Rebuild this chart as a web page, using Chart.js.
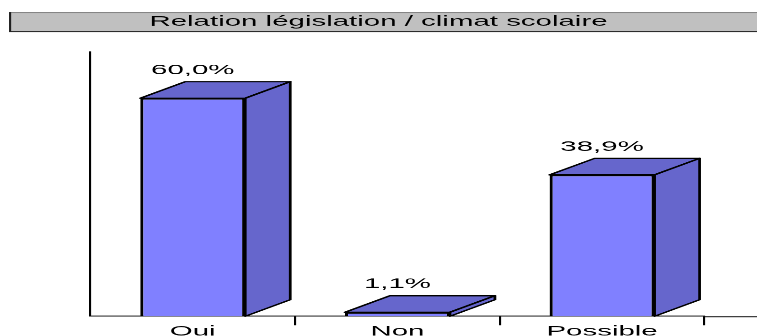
<!DOCTYPE html>
<html>
<head>
<meta charset="utf-8">
<script src="https://cdn.jsdelivr.net/npm/chart.js@4.4.1/dist/chart.umd.min.js"></script>
<style>
  html, body { margin: 0; padding: 0; background: #fff; overflow: hidden; }
  /* the original picture is a horizontally stretched chart */
  #chart { display: block; width: 757px !important; height: 336px !important; }
</style>
</head>
<body>
<canvas id="chart" width="360" height="336"></canvas>
<script>
// Chart data
const chartTitle = 'Relation législation / climat scolaire';
const categories = ['Oui', 'Non', 'Possible'];
const percentages = [60.0, 1.1, 38.9];

const FONT = '"Liberation Sans", Arial, sans-serif';
const FRONT = '#8080FF';
const SIDE = '#6666CC';
const DEPTH_X = 21.4;   // 3D depth, logical px
const DEPTH_Y = 16.5;

function fmtPct(v) {
    return v.toFixed(1).replace('.', ',') + '%';
}

// gray box behind the title
const titleBox = {
    id: 'titleBox',
    beforeDraw(chart) {
        const ctx = chart.ctx;
        ctx.save();
        ctx.fillStyle = '#C0C0C0';
        ctx.fillRect(4.3, 12, chart.width, 20);
        ctx.strokeStyle = '#808080';
        ctx.lineWidth = 1;
        ctx.beginPath();
        ctx.moveTo(4.3, 12.5);
        ctx.lineTo(chart.width, 12.5);
        ctx.stroke();
        ctx.strokeStyle = '#202020';
        ctx.beginPath();
        ctx.moveTo(4.8, 12);
        ctx.lineTo(4.8, 32);
        ctx.moveTo(4.3, 31.5);
        ctx.lineTo(chart.width, 31.5);
        ctx.stroke();
        ctx.restore();
    }
};

// top + side faces of the columns, value labels, axis extension
const bars3d = {
    id: 'bars3d',
    afterDatasetsDraw(chart) {
        const ctx = chart.ctx;
        const area = chart.chartArea;
        ctx.save();

        // x axis line runs on past the last category
        ctx.strokeStyle = '#000';
        ctx.lineWidth = 1;
        ctx.beginPath();
        ctx.moveTo(area.right, Math.round(area.bottom) + 0.5);
        ctx.lineTo(chart.width, Math.round(area.bottom) + 0.5);
        ctx.stroke();

        const meta = chart.getDatasetMeta(0);
        meta.data.forEach((bar, i) => {
            const p = bar.getProps(['x', 'y', 'base', 'width'], true);
            const l = p.x - p.width / 2;
            const r = p.x + p.width / 2;
            ctx.fillStyle = SIDE;
            ctx.strokeStyle = '#000';
            ctx.lineWidth = 1.3;
            ctx.lineJoin = 'round';

            // top face
            ctx.beginPath();
            ctx.moveTo(l, p.y);
            ctx.lineTo(l + DEPTH_X, p.y - DEPTH_Y);
            ctx.lineTo(r + DEPTH_X, p.y - DEPTH_Y);
            ctx.lineTo(r, p.y);
            ctx.closePath();
            ctx.fill();
            ctx.stroke();

            // side face
            ctx.beginPath();
            ctx.moveTo(r, p.y);
            ctx.lineTo(r + DEPTH_X, p.y - DEPTH_Y);
            ctx.lineTo(r + DEPTH_X, p.base - DEPTH_Y);
            ctx.lineTo(r, p.base);
            ctx.closePath();
            ctx.fill();
            ctx.stroke();

            // value label
            ctx.fillStyle = '#000';
            ctx.font = '14px ' + FONT;
            ctx.textAlign = 'center';
            ctx.textBaseline = 'middle';
            ctx.fillText(fmtPct(percentages[i]), p.x, p.y - 28);
        });
        ctx.restore();
    }
};

Chart.defaults.font.family = FONT;
Chart.defaults.color = '#000';

new Chart(document.getElementById('chart'), {
    type: 'bar',
    data: {
        labels: categories,
        datasets: [{
            data: percentages,
            backgroundColor: FRONT,
            borderColor: '#000',
            borderWidth: 1.5,
            barPercentage: 0.513,
            categoryPercentage: 1
        }]
    },
    options: {
        responsive: false,
        devicePixelRatio: 757 / 360,
        animation: false,
        layout: { padding: 0 },
        scales: {
            x: {
                offset: true,
                grid: {
                    offset: true,
                    drawOnChartArea: false,
                    tickLength: 9,
                    lineWidth: 1,
                    color: (c) => c.index === 0 ? 'rgba(0,0,0,0)' : '#000'
                },
                border: { color: '#000', width: 1 },
                ticks: {
                    font: { size: 14 },
                    color: '#000',
                    padding: -2
                },
                afterFit: (s) => { s.height = 20; }
            },
            y: {
                min: 0,
                max: 72.7,
                grid: { display: false },
                ticks: { display: false },
                border: { display: true, color: '#000', width: 1 },
                afterFit: (s) => { s.width = 43; }
            },
            yRight: {
                type: 'linear',
                axis: 'y',
                position: 'right',
                grid: { display: false },
                ticks: { display: false },
                border: { display: false },
                afterFit: (s) => { s.width = 25; }
            }
        },
        plugins: {
            legend: { display: false },
            tooltip: { enabled: false },
            title: {
                display: true,
                text: chartTitle,
                color: '#000',
                font: { size: 14, weight: 'normal' },
                padding: { top: 13.6, bottom: 21.6 }
            }
        }
    },
    plugins: [titleBox, bars3d]
});
</script>
</body>
</html>
